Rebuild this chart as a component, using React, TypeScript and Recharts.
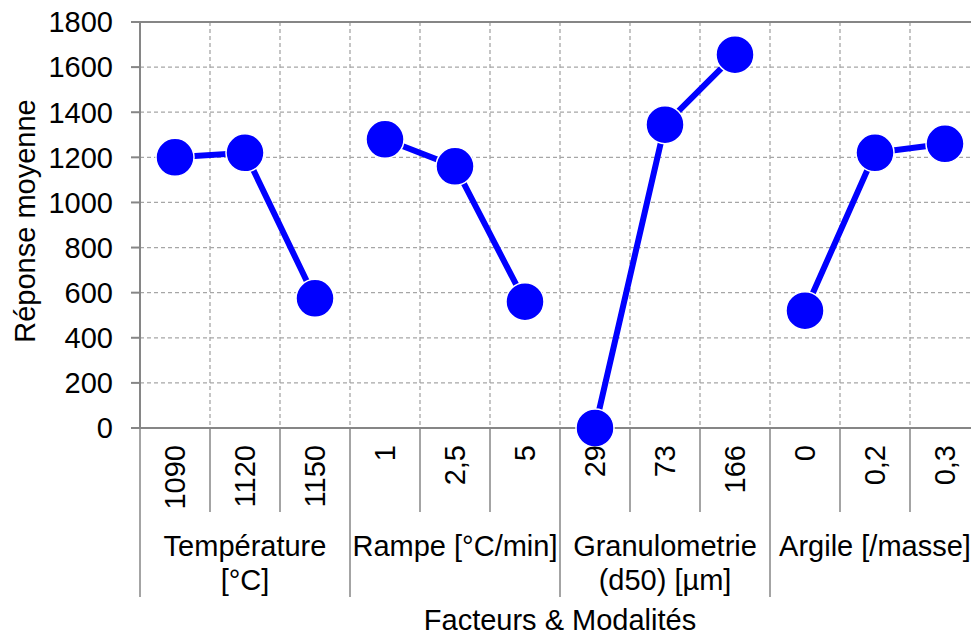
import React from "react";
import { LineChart, Line, XAxis, YAxis, CartesianGrid, ReferenceLine } from "recharts";

// modalities (x categories), grouped by factor
const categories = ["1090", "1120", "1150", "1", "2,5", "5", "29", "73", "166", "0", "0,2", "0,3"];
const groupLabels = [["Température", "[°C]"], ["Rampe [°C/min]"], ["Granulometrie", "(d50) [µm]"], ["Argile [/masse]"]];
const groupSizes = [3, 3, 3, 3];

// mean response per modality, one array per factor
const temperature = [1200, 1220, 575];
const rampe = [1280, 1160, 560];
const granulometrie = [0, 1345, 1655];
const argile = [520, 1220, 1260];

const yTicks = [0, 200, 400, 600, 800, 1000, 1200, 1400, 1600, 1800];

const seriesValues = [temperature, rampe, granulometrie, argile];
const seriesKeys = ["temperature", "rampe", "granulometrie", "argile"];

// group start index for each factor
const groupStarts = groupSizes.map((_, g) => groupSizes.slice(0, g).reduce((a, b) => a + b, 0));

// one row per modality, only the factor's own key is filled so lines break between factors
const data = categories.map((name, i) => {
  const row: Record<string, string | number> = { name };
  groupStarts.forEach((start, g) => {
    if (i >= start && i < start + groupSizes[g]) row[seriesKeys[g]] = seriesValues[g][i - start];
  });
  return row;
});

const CHART_W = 1000;
const CHART_H = 635;
const MARGIN = { top: 22, right: 20, bottom: 0, left: 0 };
const Y_AXIS_W = 140;
const X_AXIS_H = 207;
const PLOT_W = CHART_W - MARGIN.left - MARGIN.right - Y_AXIS_W;
const BAND = PLOT_W / categories.length;

const AXIS = "#868686";
const BLUE = "#0000ff";
const FONT = 29;

function CategoryTick(props: any) {
  const { x, y, payload } = props;
  const i = props.index ?? payload.index;
  const left = x - BAND / 2;
  const g = groupStarts.indexOf(i);
  const isStart = g >= 0;
  const lastIdx = categories.length - 1;
  return (
    <g>
      <line x1={left} x2={left} y1={y} y2={y + (isStart ? 169 : 84)} stroke={AXIS} strokeWidth={1.5} />
      {i === lastIdx && (
        <line x1={x + BAND / 2} x2={x + BAND / 2} y1={y} y2={y + 169} stroke={AXIS} strokeWidth={1.5} />
      )}
      <text
        x={x}
        y={y + 17}
        transform={`rotate(-90, ${x}, ${y + 17})`}
        textAnchor="end"
        dy="0.36em"
        fontSize={FONT}
        fill="#000"
      >
        {payload.value}
      </text>
      {isStart && (
        <text x={left + (groupSizes[g] * BAND) / 2} y={y + 128} textAnchor="middle" fontSize={FONT} fill="#000">
          {groupLabels[g].map((line, k) => (
            <tspan key={k} x={left + (groupSizes[g] * BAND) / 2} dy={k === 0 ? 0 : 34}>
              {line}
            </tspan>
          ))}
        </text>
      )}
    </g>
  );
}

function YTitle(props: any) {
  const vb = props.viewBox;
  const cx = vb.x + 25;
  const cy = vb.y + vb.height / 2 - 4;
  return (
    <text
      x={cx}
      y={cy}
      transform={`rotate(-90, ${cx}, ${cy})`}
      textAnchor="middle"
      dy="0.36em"
      fontSize={FONT}
      fill="#000"
    >
      Réponse moyenne
    </text>
  );
}

export default function App() {
  return (
    <div
      style={{
        position: "absolute",
        top: 0,
        left: 0,
        width: 971,
        height: 635,
        overflow: "hidden",
        background: "#fff",
        fontFamily: "'Liberation Sans', Arial, sans-serif",
      }}
    >
      <LineChart width={CHART_W} height={CHART_H} data={data} margin={MARGIN}>
        <CartesianGrid
          stroke="#a6a6a6"
          strokeDasharray="4 3"
          strokeWidth={1.3}
          verticalCoordinatesGenerator={({ offset }: any) =>
            categories.slice(1).map((_, k) => offset.left + ((k + 1) * offset.width) / categories.length)
          }
        />
        <ReferenceLine y={1800} stroke={AXIS} strokeWidth={2} />
        <XAxis
          dataKey="name"
          scale="band"
          interval={0}
          height={X_AXIS_H}
          tickLine={false}
          tickSize={0}
          tickMargin={0}
          axisLine={{ stroke: AXIS, strokeWidth: 2 }}
          tick={<CategoryTick />}
          label={{ value: "Facteurs & Modalités", position: "insideBottom", offset: 5, fontSize: FONT, fill: "#000" }}
        />
        <YAxis
          width={Y_AXIS_W}
          domain={[0, 1800]}
          ticks={yTicks}
          interval={0}
          tickSize={9}
          tickMargin={18}
          tickLine={{ stroke: AXIS, strokeWidth: 2 }}
          axisLine={{ stroke: AXIS, strokeWidth: 2 }}
          tick={{ fontSize: FONT, fill: "#000" }}
          label={{ content: <YTitle /> }}
        />
        {seriesKeys.map((key) => (
          <Line
            key={key}
            dataKey={key}
            stroke={BLUE}
            strokeWidth={6}
            dot={{ r: 19, fill: BLUE, stroke: "#ffffff", strokeWidth: 1.5 }}
            activeDot={false}
            connectNulls={false}
            isAnimationActive={false}
          />
        ))}
      </LineChart>
    </div>
  );
}
